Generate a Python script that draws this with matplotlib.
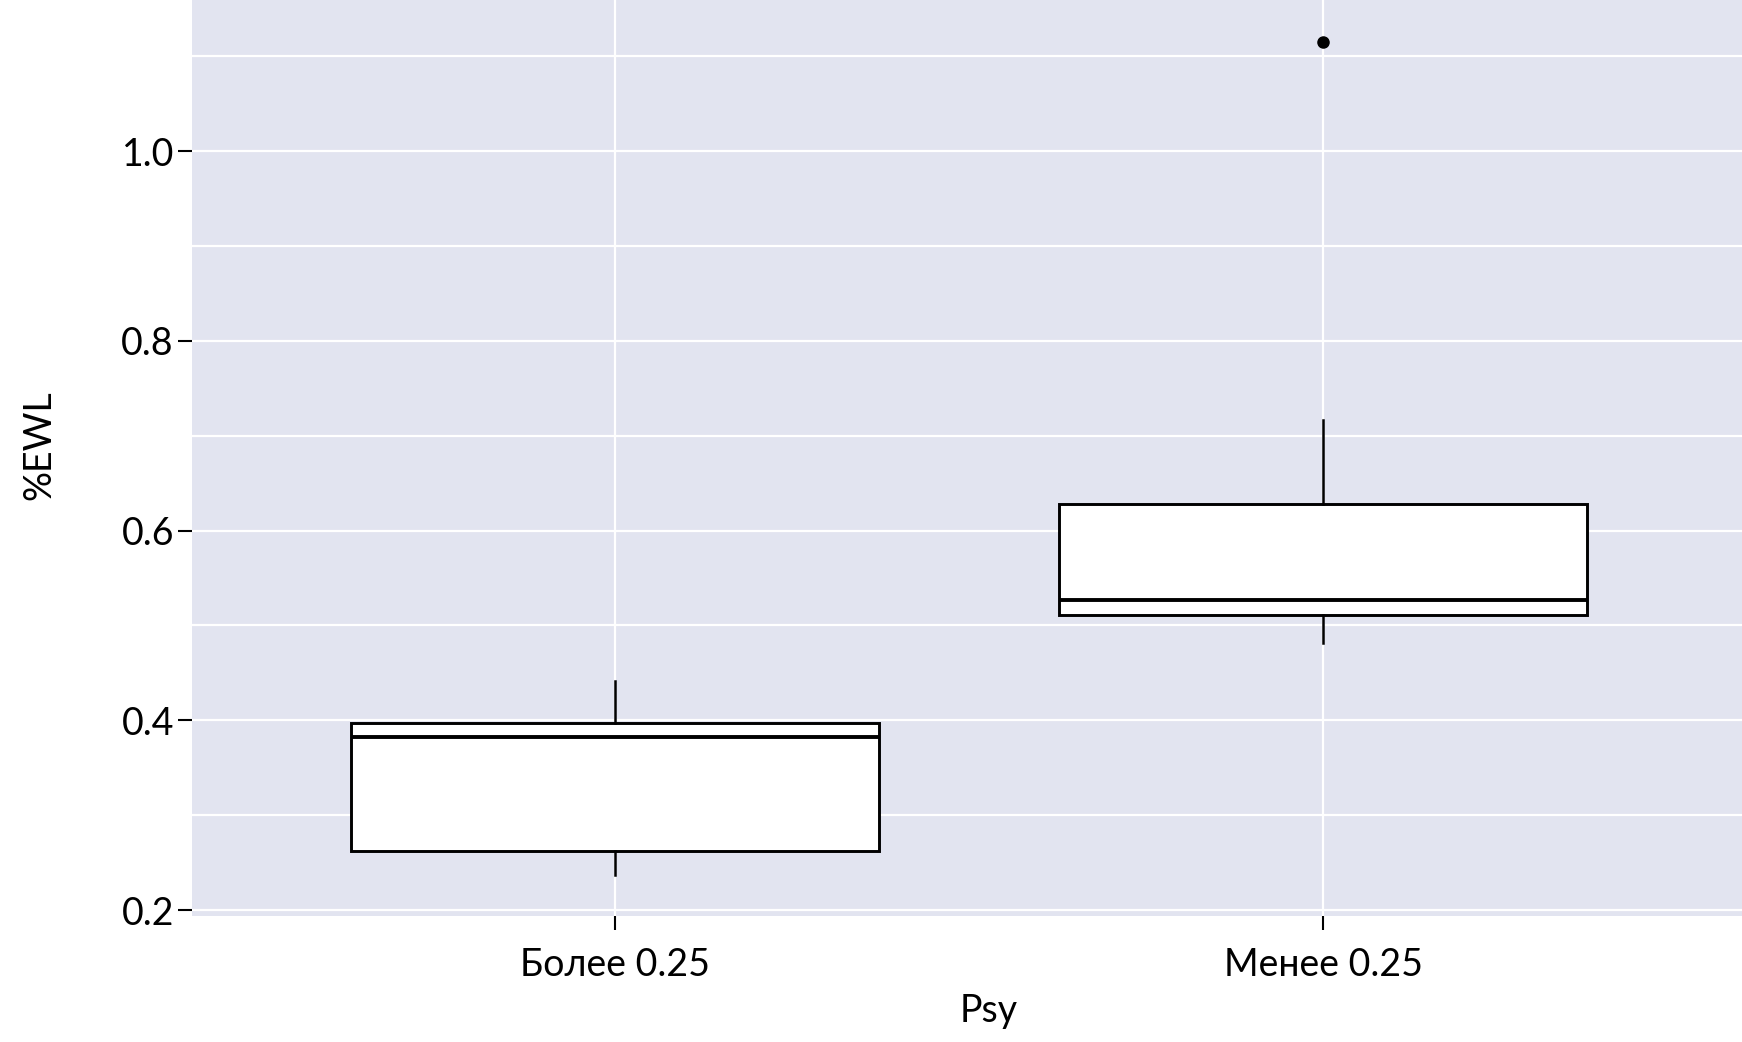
import matplotlib
matplotlib.use("Agg")
import matplotlib.pyplot as plt
from matplotlib.ticker import FixedLocator

plt.rcParams['font.family'] = ['Lato', 'DejaVu Sans']

# ---- data ----
categories = ["Более 0.25", "Менее 0.25"]
whisker_low = [0.237, 0.482]
q1 = [0.262, 0.511]
median = [0.382, 0.527]
q3 = [0.397, 0.628]
whisker_high = [0.441, 0.717]
outliers = [[], [1.115]]
y_ticks = [0.2, 0.4, 0.6, 0.8, 1.0]
x_label = "Psy"
y_label = "%EWL"

W, H = 1742, 1042
fig = plt.figure(figsize=(W / 100, H / 100), dpi=100)
left_px, bottom_px, right_px, top_px = 192, 916, 1742, 0
ax = fig.add_axes([left_px / W, (H - bottom_px) / H, (right_px - left_px) / W, (bottom_px - top_px) / H])
ax.set_facecolor('#e2e4f0')

stats = []
for i, c in enumerate(categories):
    stats.append(dict(label=c, whislo=whisker_low[i], q1=q1[i], med=median[i],
                      q3=q3[i], whishi=whisker_high[i], fliers=outliers[i]))

positions = list(range(1, len(categories) + 1))
ax.bxp(stats, positions=positions, widths=0.745, patch_artist=True, showcaps=False,
       boxprops=dict(facecolor='white', edgecolor='black', linewidth=2.1),
       medianprops=dict(color='black', linewidth=2.8),
       whiskerprops=dict(color='black', linewidth=1.8),
       flierprops=dict(marker='o', markerfacecolor='black', markeredgecolor='black',
                       markersize=8, linestyle='none'),
       zorder=3)

ax.set_xlim(0.4035, 2.591)
ax.set_ylim(0.1937, 1.1594)

ax.yaxis.set_major_locator(FixedLocator(y_ticks))
ax.yaxis.set_minor_locator(FixedLocator([0.3, 0.5, 0.7, 0.9, 1.1]))
ax.set_xticks(positions)
ax.set_xticklabels(categories)

ax.grid(True, which='major', axis='both', color='white', linewidth=1.6, zorder=0)
ax.grid(True, which='minor', axis='y', color='white', linewidth=1.6, zorder=0)
ax.set_axisbelow(True)

for s in ax.spines.values():
    s.set_visible(False)

ax.tick_params(axis='both', which='major', direction='out', length=10, width=1.5,
               color='black', labelsize=27, labelcolor='black', pad=3)
ax.tick_params(axis='y', which='minor', length=0)
ax.tick_params(axis='x', which='major', pad=12)
ax.yaxis.set_major_formatter(matplotlib.ticker.FormatStrFormatter('%.1f'))

ax.set_xlabel(x_label, fontsize=27, color='black')
ax.set_ylabel(y_label, fontsize=27, color='black')
# position axis labels to match reference
ax.xaxis.set_label_coords((989 - left_px) / (right_px - left_px), -(1011 - bottom_px) / (bottom_px - top_px))
ax.yaxis.set_label_coords(-(left_px - 39) / (right_px - left_px), (bottom_px - 445) / (bottom_px - top_px))
ax.xaxis.label.set_va('center')
ax.yaxis.label.set_va('center')

fig.savefig("out.png", dpi=100)
